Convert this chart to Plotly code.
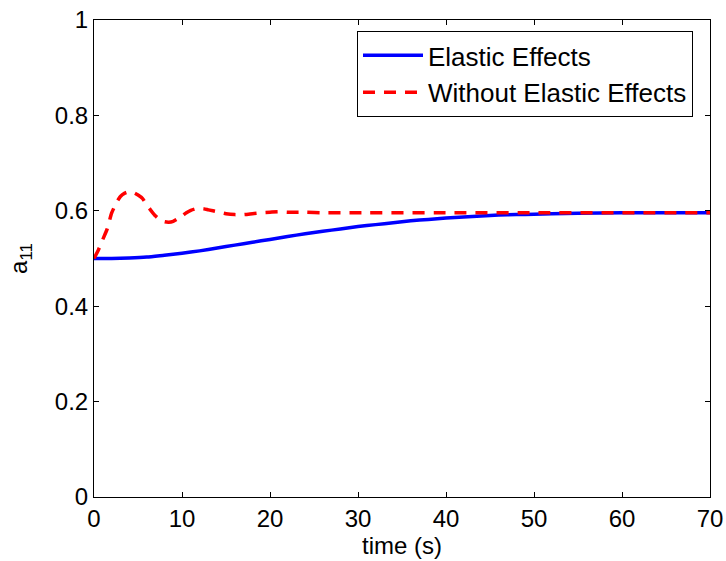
import plotly.graph_objects as go

# Elastic Effects (blue solid)
t_elastic = [0, 2, 4, 6, 8, 10, 12, 14, 16, 18, 20, 22, 24, 26, 28, 30, 32, 34, 36, 38,
             40, 42, 44, 46, 48, 50, 52, 55, 60, 65, 70]
a_elastic = [0.500, 0.500, 0.501, 0.503, 0.507, 0.511, 0.516, 0.522, 0.528, 0.534, 0.540,
             0.546, 0.552, 0.557, 0.562, 0.567, 0.571, 0.575, 0.579, 0.582, 0.585, 0.587,
             0.589, 0.591, 0.592, 0.593, 0.594, 0.595, 0.596, 0.596, 0.596]

# Without Elastic Effects (red dashed)
t_rigid = [0, 0.5, 1, 1.5, 2, 2.5, 3, 3.5, 4, 4.5, 5, 5.5, 6, 6.5, 7, 7.5, 8, 8.5, 9, 9.5,
           10, 10.5, 11, 11.5, 12, 12.5, 13, 14, 15, 16, 17, 18, 19, 20, 21, 22, 24, 26,
           30, 40, 50, 60, 70]
a_rigid = [0.500, 0.518, 0.540, 0.562, 0.595, 0.615, 0.630, 0.637, 0.640, 0.638, 0.633,
           0.626, 0.612, 0.600, 0.589, 0.581, 0.577, 0.576, 0.578, 0.583, 0.589, 0.596,
           0.601, 0.604, 0.605, 0.604, 0.602, 0.598, 0.594, 0.592, 0.592, 0.594, 0.596,
           0.597, 0.598, 0.597, 0.597, 0.596, 0.596, 0.596, 0.596, 0.596, 0.596]

x_ticks = [0, 10, 20, 30, 40, 50, 60, 70]
y_ticks = [0, 0.2, 0.4, 0.6, 0.8, 1]
y_tick_labels = ["0", "0.2", "0.4", "0.6", "0.8", "1"]

FONT = "Liberation Sans, Arial, Helvetica, sans-serif"

fig = go.Figure()
fig.add_trace(go.Scatter(x=t_elastic, y=a_elastic, mode="lines", name="Elastic Effects",
                         line=dict(color="#0000ff", width=3.5, shape="spline", smoothing=0.6)))
fig.add_trace(go.Scatter(x=t_rigid, y=a_rigid, mode="lines", name="Without Elastic Effects",
                         line=dict(color="#ff0000", width=3.5, dash="12px,9px", shape="spline",
                                   smoothing=0.6)))

axis_common = dict(showline=True, linecolor="black", linewidth=1, mirror="ticks",
                   ticks="inside", ticklen=5, tickcolor="black", showgrid=False,
                   zeroline=False, automargin=False,
                   tickfont=dict(size=24, color="black", family=FONT))

fig.update_layout(
    width=726, height=561,
    margin=dict(l=94, r=16, t=20, b=64),
    paper_bgcolor="white", plot_bgcolor="white",
    font=dict(family=FONT, color="black", size=24),
    xaxis=dict(range=[0, 70], tickvals=x_ticks, ticktext=[str(v) for v in x_ticks],
               title=dict(text="time (s)", font=dict(size=24), standoff=0), **axis_common),
    yaxis=dict(range=[0, 1], tickvals=y_ticks, ticktext=y_tick_labels,
               title=dict(text="a<sub>11</sub>", font=dict(size=24), standoff=20), **axis_common),
    legend=dict(x=0.9724, y=0.977, xanchor="right", yanchor="top",
                bgcolor="white", bordercolor="black", borderwidth=1,
                font=dict(size=26, color="black"), tracegroupgap=0, itemwidth=60),
    showlegend=True,
)

fig.write_html("out.html", config={"displayModeBar": False},
               post_script="document.body.style.margin='0';document.body.style.overflow='hidden';"
                           "document.documentElement.style.overflow='hidden';")
